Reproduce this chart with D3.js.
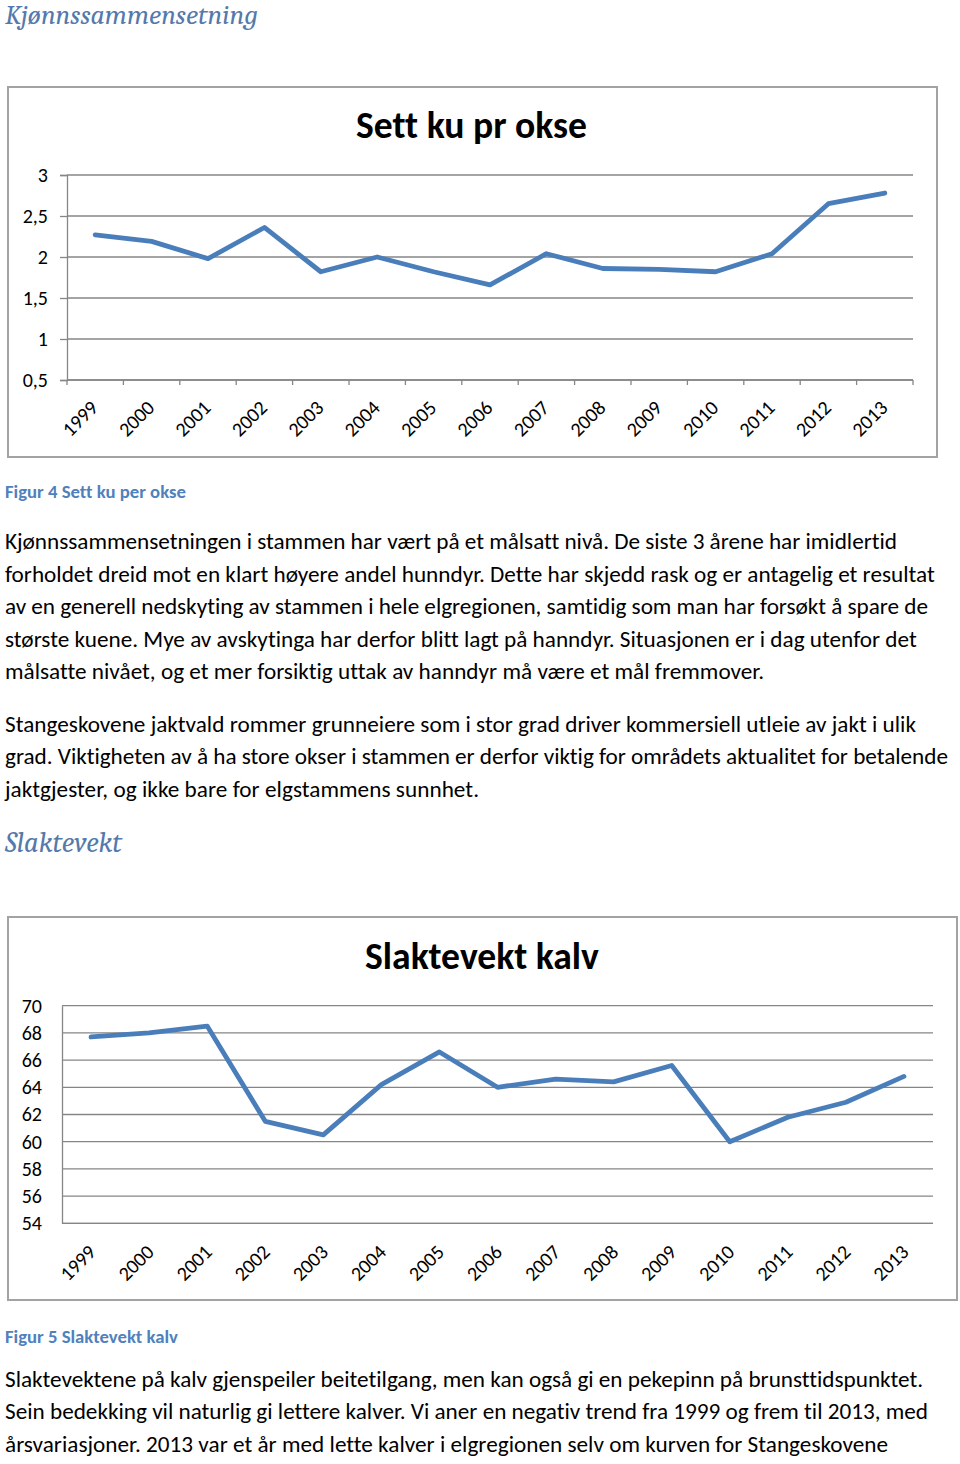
<!DOCTYPE html>
<html><head><meta charset="utf-8">
<script src="https://cdn.jsdelivr.net/npm/d3@7/dist/d3.min.js"></script>
<style>
html,body{margin:0;padding:0;background:#fff;}
svg{display:block;}
text{font-variant-ligatures:none;}
</style></head>
<body>
<svg id="page" width="960" height="1464"></svg>
<script>
// ---------- DATA ----------
const years = ["1999","2000","2001","2002","2003","2004","2005","2006","2007","2008","2009","2010","2011","2012","2013"];
const kuPrOkse = [2.27,2.19,1.98,2.36,1.82,2.00,1.82,1.66,2.04,1.86,1.85,1.82,2.04,2.65,2.78];
const kuTicks = [0.5,1,1.5,2,2.5,3];
const slaktevekt = [67.7,68.0,68.5,61.5,60.5,64.2,66.6,64.0,64.6,64.4,65.6,60.0,61.8,62.9,64.8];
const vektTicks = [54,56,58,60,62,64,66,68,70];

const heading1 = "Kjønnssammensetning";
const heading2 = "Slaktevekt";
const title1 = "Sett ku pr okse";
const title2 = "Slaktevekt kalv";
const caption1 = "Figur 4 Sett ku per okse";
const caption2 = "Figur 5 Slaktevekt kalv";
const para1 = [
 "Kjønnssammensetningen i stammen har vært på et målsatt nivå. De siste 3 årene har imidlertid",
 "forholdet dreid mot en klart høyere andel hunndyr. Dette har skjedd rask og er antagelig et resultat",
 "av en generell nedskyting av stammen i hele elgregionen, samtidig som man har forsøkt å spare de",
 "største kuene. Mye av avskytinga har derfor blitt lagt på hanndyr. Situasjonen er i dag utenfor det",
 "målsatte nivået, og et mer forsiktig uttak av hanndyr må være et mål fremmover."
];
const para2 = [
 "Stangeskovene jaktvald rommer grunneiere som i stor grad driver kommersiell utleie av jakt i ulik",
 "grad. Viktigheten av å ha store okser i stammen er derfor viktig for områdets aktualitet for betalende",
 "jaktgjester, og ikke bare for elgstammens sunnhet."
];
const para3 = [
 "Slaktevektene på kalv gjenspeiler beitetilgang, men kan også gi en pekepinn på brunsttidspunktet.",
 "Sein bedekking vil naturlig gi lettere kalver. Vi aner en negativ trend fra 1999 og frem til 2013, med",
 "årsvariasjoner. 2013 var et år med lette kalver i elgregionen selv om kurven for Stangeskovene"
];

// ---------- LAYOUT ----------
const svg = d3.select("#page");
svg.append("rect").attr("width",960).attr("height",1464).attr("fill","#fff");
const sans = "Carlito, Lato, 'Open Sans', sans-serif";
const serif = "Caladea, 'DejaVu Serif', serif";
const lineColor = "#4a7ebb";
const gridColor = "#868686";

function fit(sel, w){
  const cur = sel.node().getComputedTextLength();
  if (Math.abs(cur - w) > 0.5) sel.attr("textLength", w).attr("lengthAdjust","spacing");
}
function fitSize(sel, w){
  const fs = parseFloat(sel.attr("font-size"));
  const cur = sel.node().getComputedTextLength();
  sel.attr("font-size", fs * w / cur);
}

// headings
const h1 = svg.append("text").attr("x",5).attr("y",24).attr("font-family",serif).attr("font-style","italic")
  .attr("font-size",26).attr("fill","#5479ab").text(heading1);
fitSize(h1, 253);
const h2 = svg.append("text").attr("x",5).attr("y",852).attr("font-family",serif).attr("font-style","italic")
  .attr("font-size",26).attr("fill","#5479ab").text(heading2);
fitSize(h2, 117);

// captions
const c1 = svg.append("text").attr("x",5).attr("y",498).attr("font-family",sans).attr("font-weight","bold")
  .attr("font-size",16).attr("fill","#4f81bd").text(caption1);
fitSize(c1, 181);
const c2 = svg.append("text").attr("x",5).attr("y",1343).attr("font-family",sans).attr("font-weight","bold")
  .attr("font-size",16).attr("fill","#4f81bd").text(caption2);
fitSize(c2, 173);

// paragraphs: one font size for all body text (median fit), then fine-tune spacing
const allLines = [];
function para(lines, y0, widths){
  lines.forEach((l,i)=>{
    const t = svg.append("text").attr("x",5).attr("y",y0 + i*32.5).attr("font-family",sans)
      .attr("font-size",20).attr("fill","#000").text(l);
    allLines.push({t, w: widths[i]-5});
  });
}
para(para1, 549, [897,935,928,917,764]);
para(para2, 731.5, [916,948,479]);
para(para3, 1386.5, [923,928,888]);
const scales = allLines.map(o=>o.w / o.t.node().getComputedTextLength()).sort((a,b)=>a-b);
const bodySize = 20 * scales[Math.floor(scales.length/2)];
allLines.forEach(o=>{ o.t.attr("font-size", bodySize); fit(o.t, o.w); });

// ---------- CHARTS ----------
function chart(o){
  const g = svg.append("g");
  g.append("rect").attr("x",o.box[0]).attr("y",o.box[1]).attr("width",o.box[2]-o.box[0]).attr("height",o.box[3]-o.box[1])
    .attr("fill","#fff").attr("stroke","#a3a3a3").attr("stroke-width",2);
  const x = d3.scaleBand().domain(years).range([o.left,o.right]);
  const y = d3.scaleLinear().domain(o.domain).range([o.bottom,o.top]);
  g.selectAll("line.grid").data(o.ticks).join("line")
    .attr("x1",o.left).attr("x2",o.right).attr("y1",d=>y(d)).attr("y2",d=>y(d))
    .attr("stroke",gridColor).attr("stroke-width",1.3);
  const ya = d3.axisLeft(y).tickValues(o.ticks).tickSize(o.yTick).tickPadding(o.yPad)
    .tickFormat(d=>String(d).replace(".",","));
  const yg = g.append("g").attr("transform",`translate(${o.left},0)`).call(ya);
  yg.select(".domain").attr("stroke",gridColor).attr("stroke-width",1.3);
  yg.selectAll(".tick line").attr("stroke",gridColor).attr("stroke-width",1.3);
  yg.selectAll("text").attr("font-family",sans).attr("font-size",20).attr("fill","#000");
  const xg = g.append("g").attr("transform",`translate(0,${o.bottom})`);
  xg.append("line").attr("x1",o.left).attr("x2",o.right).attr("stroke",gridColor).attr("stroke-width",1.3);
  if (o.xTick){
    const edges = years.map(d=>x(d)).concat([o.right]);
    xg.selectAll("line.t").data(edges).join("line").attr("x1",d=>d).attr("x2",d=>d).attr("y1",0).attr("y2",o.xTick)
      .attr("stroke",gridColor).attr("stroke-width",1.3);
  }
  xg.selectAll("text").data(years).join("text")
    .attr("transform",d=>`translate(${x(d)+x.bandwidth()/2+o.lx},${o.ly}) rotate(-45)`)
    .attr("text-anchor","end").attr("font-family",sans).attr("font-size",20).attr("fill","#000").text(d=>d);
  const line = d3.line().x((d,i)=>x(years[i])+x.bandwidth()/2).y(d=>y(d));
  g.append("path").datum(o.values).attr("d",line).attr("fill","none").attr("stroke",lineColor)
    .attr("stroke-width",4.8).attr("stroke-linejoin","round").attr("stroke-linecap","round");
  const t = g.append("text").attr("x",o.titleX).attr("y",o.titleY).attr("text-anchor","middle")
    .attr("font-family",sans).attr("font-weight","bold").attr("font-size",36).attr("fill","#000").text(o.title);
  fitSize(t, o.titleW);
}

chart({box:[8,87,937,457], left:67, right:913, top:175, bottom:380, domain:[0.5,3], ticks:kuTicks,
  yTick:7, yPad:12, xTick:5, lx:4, ly:29, values:kuPrOkse, title:title1, titleX:471.5, titleY:138, titleW:231});
chart({box:[8,917,957,1300], left:62, right:933, top:1005.7, bottom:1223.3, domain:[54,70], ticks:vektTicks,
  yTick:0, yPad:20, xTick:0, lx:6, ly:30, values:slaktevekt, title:title2, titleX:482, titleY:969, titleW:234});
</script>
</body></html>
